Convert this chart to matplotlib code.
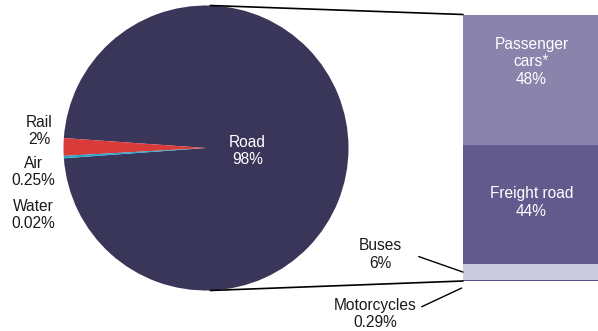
import matplotlib.pyplot as plt
from matplotlib.patches import ConnectionPatch

plt.rcParams['font.family'] = ['Liberation Sans', 'DejaVu Sans']

# pie data
modes = ['Road', 'Rail', 'Air', 'Water']
mode_share = [98, 2, 0.25, 0.02]
mode_labels = ['98%', '2%', '0.25%', '0.02%']
mode_colors = ['#393659', '#d93a3a', '#1fa5cc', '#2a8fb0']

# road breakdown (bottom to top)
road_parts = ['Motorcycles', 'Buses', 'Freight road', 'Passenger\ncars*']
road_share = [0.29, 6, 44, 48]
road_labels = ['0.29%', '6%', '44%', '48%']
road_colors = ['#5a4d8c', '#cbc9dd', '#625a8c', '#8a83ac']

W, H = 598, 331
fs = 11.2
ls = 1.2
txt = '#1a1a1a'
fig = plt.figure(figsize=(W / 100, H / 100), dpi=100)

# pie axes, placed by pixel geometry
cx, cy, r = 206, 148, 142.5
ax1 = fig.add_axes([(cx - r) / W, (H - cy - r) / H, 2 * r / W, 2 * r / H])
road_frac = mode_share[0] / sum(mode_share)
start = 176 - 360 * road_frac
ax1.pie(mode_share, colors=mode_colors, startangle=start, counterclock=True,
        radius=1, wedgeprops=dict(linewidth=0))
ax1.set_xlim(-1, 1)
ax1.set_ylim(-1, 1)
ax1.axis('off')

ax1.text(0.29, -0.02, f'{modes[0]}\n{mode_labels[0]}', color='white',
         ha='center', va='center', fontsize=fs, linespacing=ls)
pie_text_pos = {'Rail': (-1.17, 0.12), 'Air': (-1.21, -0.17), 'Water': (-1.21, -0.47)}
for m, lab in zip(modes[1:], mode_labels[1:]):
    x, y = pie_text_pos[m]
    ax1.text(x, y, f'{m}\n{lab}', ha='center', va='center', fontsize=fs,
             linespacing=ls, color=txt)

# bar axes
bx0, bx1, by0, by1 = 463, 600, 14.5, 281
ax2 = fig.add_axes([bx0 / W, (H - by1) / H, (bx1 - bx0) / W, (by1 - by0) / H])
total = sum(road_share)
label_shift = {'Freight road': 0.6, 'Passenger\ncars*': 6.5}
bottom = 0
for name, val, lab, col in zip(road_parts, road_share, road_labels, road_colors):
    ax2.bar(0, val, width=1, bottom=bottom, color=col, linewidth=0)
    if name in label_shift:
        ax2.text(0, bottom + val / 2 + label_shift[name], f'{name}\n{lab}',
                 color='white', ha='center', va='center', fontsize=fs,
                 linespacing=ls)
    bottom += val
ax2.set_xlim(-0.5, 0.5)
ax2.set_ylim(0, total)
ax2.axis('off')

ax2.annotate(f'{road_parts[1]}\n{road_labels[1]}', xy=(-0.5, road_share[0] + road_share[1] / 2),
             xytext=(-1.106, 9.8), textcoords='data', ha='center', va='center',
             fontsize=fs, linespacing=ls, color=txt, annotation_clip=False,
             arrowprops=dict(arrowstyle='-', color='black', lw=1,
                             shrinkA=11, shrinkB=0, relpos=(1.0, 0.62)))
ax2.annotate(f'{road_parts[0]}\n{road_labels[0]}', xy=(-0.51, -2.6),
             xytext=(-1.142, -12.2), textcoords='data', ha='center', va='center',
             fontsize=fs, linespacing=ls, color=txt, annotation_clip=False,
             arrowprops=dict(arrowstyle='-', color='black', lw=1,
                             shrinkA=2, shrinkB=0, relpos=(1.0, 0.65)))

# connectors from pie to bar
for py, by in [(1, total), (-1, 0)]:
    con = ConnectionPatch(xyA=(0.03, py), coordsA=ax1.transData,
                          xyB=(-0.5, by), coordsB=ax2.transData,
                          color='black', lw=1.2)
    fig.add_artist(con)

fig.savefig('out.png', dpi=100)
